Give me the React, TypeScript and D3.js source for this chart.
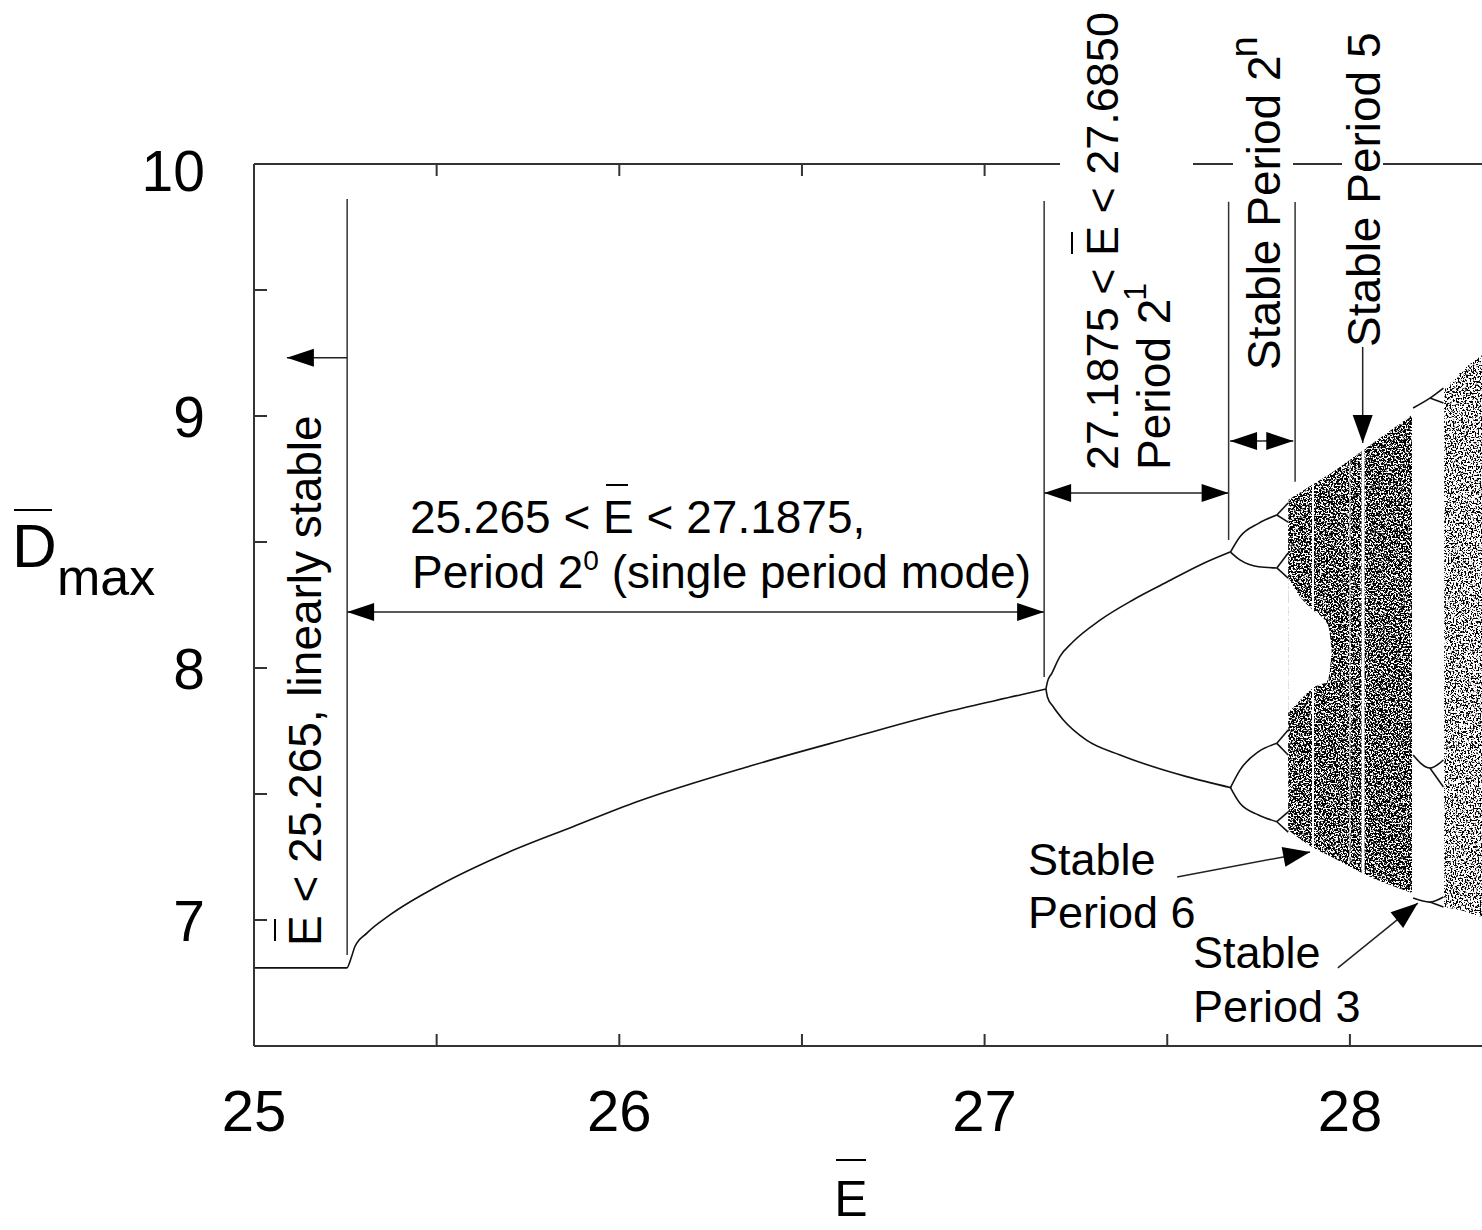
import React from 'react';
import * as d3 from 'd3';

// period 1 branch (single period mode, incl. the flat linearly stable part)
const p1E = [25.0, 25.254, 25.267, 25.276, 25.309, 25.372, 25.5, 25.692, 25.873, 26.048, 26.358, 26.632, 26.905, 27.097, 27.168];
const p1D = [6.81, 6.81, 6.854, 6.894, 6.948, 7.02, 7.132, 7.266, 7.37, 7.469, 7.611, 7.722, 7.829, 7.893, 7.917];

// period 2 branches
const p2uE = [27.168, 27.172, 27.184, 27.206, 27.242, 27.316, 27.406, 27.499, 27.59, 27.672];
const p2uD = [7.917, 7.945, 7.979, 8.045, 8.104, 8.19, 8.27, 8.341, 8.409, 8.46];
const p2lE = [27.168, 27.172, 27.188, 27.215, 27.279, 27.371, 27.462, 27.553, 27.675];
const p2lD = [7.917, 7.885, 7.846, 7.795, 7.714, 7.655, 7.608, 7.569, 7.525];

// period 4 branches
const p4E = [27.673, 27.699, 27.75, 27.8];
const p4uuD = [8.46, 8.521, 8.574, 8.607];
const p4ulD = [8.46, 8.429, 8.402, 8.397];
const p4luD = [7.525, 7.595, 7.668, 7.701];
const p4llD = [7.525, 7.463, 7.417, 7.39];

// period 8 forks (start at end of period 4)
const p8E = [27.8, 27.831];
const p8Start = [8.607, 8.397, 7.701, 7.39];
const p8Up = [8.655, 8.456, 7.754, 7.429];
const p8Dn = [8.579, 8.357, 7.655, 7.349];

// chaotic band before the period 3 window
const chaos1E = [27.831, 27.896, 27.945, 28.033, 28.17];
const chaos1Top = [8.667, 8.726, 8.77, 8.861, 9.004];
const chaos1Bot = [7.357, 7.29, 7.254, 7.187, 7.107];

// empty wedge inside the first band
const wedgeE = [27.831, 27.864, 27.899, 27.94, 27.95];
const wedgeTop = [8.361, 8.282, 8.23, 8.171, 8.071];
const wedgeBot = [7.821, 7.873, 7.921, 7.952, 8.063];

// narrow periodic windows (white gaps)
const gapE = [27.899, 28.0, 28.036];
const gapW = [2, 1, 3];

// period 3 window branches
const p3E = [28.173, 28.219, 28.256];
const p3TopD = [9.032, 9.071, 9.111];
const p3TopDn = [9.071, 9.052];
const p3MidD = [7.655, 7.603, 7.635];
const p3MidDn = [7.603, 7.528];
const p3BotD = [7.087, 7.071, 7.091];
const p3BotDn = [7.071, 7.052];

// chaotic band after the period 3 window
const chaos2E = [28.258, 28.3, 28.362, 28.4];
const chaos2Top = [9.103, 9.17, 9.242, 9.282];
const chaos2Bot = [7.052, 7.04, 7.012, 7.0];

const xTicks = [25.5, 26, 26.5, 27, 27.5, 28, 28.5];
const yTicks = [7, 7.5, 8, 8.5, 9, 9.5];
const xLabels = [25, 26, 27, 28];
const yLabels = [7, 8, 9, 10];

const W = 1482;
const H = 1230;
const FONT = 'Liberation Sans, Arial, Helvetica, sans-serif';

const x = d3.scaleLinear().domain([25, 29]).range([254, 254 + 4 * 365.3]);
const y = d3.scaleLinear().domain([6.5, 10]).range([1046, 164]);

const zip = (es: number[], ds: number[]) => es.map((e, i) => [e, ds[i]] as [number, number]);

const line = d3
  .line<[number, number]>()
  .x((d) => x(d[0]))
  .y((d) => y(d[1]))
  .curve(d3.curveMonotoneX);

const area = d3
  .area<[number, number, number]>()
  .x((d) => x(d[0]))
  .y0((d) => y(d[1]))
  .y1((d) => y(d[2]))
  .curve(d3.curveMonotoneX);

const band = (es: number[], bot: number[], top: number[]) =>
  es.map((e, i) => [e, bot[i], top[i]] as [number, number, number]);

// arrowhead polygon with tip at (tx,ty) pointing away from (fx,fy)
const head = (fx: number, fy: number, tx: number, ty: number, len = 27, half = 9) => {
  const a = Math.atan2(ty - fy, tx - fx);
  const bx = tx - len * Math.cos(a);
  const by = ty - len * Math.sin(a);
  const px = -Math.sin(a) * half;
  const py = Math.cos(a) * half;
  return `${tx},${ty} ${bx + px},${by + py} ${bx - px},${by - py}`;
};

const Arrow = ({ x1, y1, x2, y2, both = false, len = 27, half = 9 }: any) => (
  <g>
    <line x1={x1} y1={y1} x2={x2} y2={y2} stroke="#222" strokeWidth={1.5} />
    <polygon points={head(x1, y1, x2, y2, len, half)} fill="#000" />
    {both && <polygon points={head(x2, y2, x1, y1, len, half)} fill="#000" />}
  </g>
);

const App = () => {
  const branches: [number, number][][] = [
    zip(p1E, p1D),
    zip(p2uE, p2uD),
    zip(p2lE, p2lD),
    zip(p4E, p4uuD),
    zip(p4E, p4ulD),
    zip(p4E, p4luD),
    zip(p4E, p4llD),
    ...p8Start.flatMap((s, i) => [zip(p8E, [s, p8Up[i]]), zip(p8E, [s, p8Dn[i]])]),
    zip(p3E, p3TopD),
    zip(p3E.slice(1), p3TopDn),
    zip(p3E, p3MidD),
    zip(p3E.slice(1), p3MidDn),
    zip(p3E, p3BotD),
    zip(p3E.slice(1), p3BotDn),
  ];

  const vline = (e: number, d0: number, d1: number) => (
    <line x1={x(e)} x2={x(e)} y1={y(d0)} y2={y(d1)} stroke="#333" strokeWidth={1.5} />
  );

  return (
    <svg width={W} height={H} style={{ display: 'block', background: '#fff' }} fontFamily={FONT}>
      <style>{'body{margin:0}'}</style>
      <defs>
        <filter id="stipDense" x="0%" y="0%" width="100%" height="100%" colorInterpolationFilters="sRGB">
          <feTurbulence type="fractalNoise" baseFrequency="0.6" numOctaves={2} seed={7} result="n" />
          <feColorMatrix in="n" type="matrix" values="0 0 0 0 0  0 0 0 0 0  0 0 0 0 0  12 0 0 0 -5.2" result="d" />
          <feComposite in="d" in2="SourceGraphic" operator="in" />
        </filter>
        <filter id="stipLight" x="0%" y="0%" width="100%" height="100%" colorInterpolationFilters="sRGB">
          <feTurbulence type="fractalNoise" baseFrequency="0.6" numOctaves={2} seed={3} result="n" />
          <feColorMatrix in="n" type="matrix" values="0 0 0 0 0  0 0 0 0 0  0 0 0 0 0  12 0 0 0 -6.0" result="d" />
          <feComposite in="d" in2="SourceGraphic" operator="in" />
        </filter>
      </defs>

      {/* chaotic regions */}
      <path d={area(band(chaos1E, chaos1Bot, chaos1Top)) || ''} fill="#000" filter="url(#stipDense)" />
      <path d={area(band(chaos2E, chaos2Bot, chaos2Top)) || ''} fill="#000" filter="url(#stipLight)" />
      <path d={area(band(wedgeE, wedgeBot, wedgeTop)) || ''} fill="#fff" />
      {gapE.map((e, i) => {
        const j = d3.bisectLeft(chaos1E, e);
        const t = chaos1Top[Math.min(j, chaos1Top.length - 1)];
        const b = chaos1Bot[Math.max(j - 1, 0)];
        return <line key={i} x1={x(e)} x2={x(e)} y1={y(t) - 6} y2={y(b) + 6} stroke="#fff" strokeWidth={gapW[i]} />;
      })}

      {/* branches */}
      {branches.map((b, i) => (
        <path key={i} d={line(b) || ''} fill="none" stroke="#111" strokeWidth={1.6} />
      ))}

      {/* frame */}
      <line x1={254} x2={254} y1={164} y2={1046} stroke="#333" strokeWidth={2} />
      <line x1={254} x2={W} y1={1046} y2={1046} stroke="#333" strokeWidth={2} />
      <line x1={254} x2={W} y1={164} y2={164} stroke="#333" strokeWidth={2} />
      {xTicks.map((t) => (
        <g key={t}>
          <line x1={x(t)} x2={x(t)} y1={1046} y2={1034} stroke="#333" strokeWidth={2} />
          <line x1={x(t)} x2={x(t)} y1={164} y2={176} stroke="#333" strokeWidth={2} />
        </g>
      ))}
      {yTicks.map((t) => (
        <line key={t} x1={254} x2={267} y1={y(t)} y2={y(t)} stroke="#333" strokeWidth={2} />
      ))}
      {yLabels.map((t) => (
        <text key={t} x={205} y={y(t) + (t === 10 ? 27 : 21)} fontSize={57} textAnchor="end">{t}</text>
      ))}
      {xLabels.map((t) => (
        <text key={t} x={x(t)} y={1131} fontSize={58} textAnchor="middle">{t}</text>
      ))}

      {/* axis titles */}
      <text x={851} y={1216} fontSize={50} textAnchor="middle">E</text>
      <line x1={836} x2={866} y1={1160} y2={1160} stroke="#000" strokeWidth={2} />
      <text x={12} y={567} fontSize={62}>D</text>
      <line x1={14} x2={52} y1={510} y2={510} stroke="#000" strokeWidth={2} />
      <text x={57} y={595} fontSize={52}>max</text>

      {/* annotation lines and arrows */}
      {vline(25.255, 9.861, 6.861)}
      <Arrow x1={x(25.255)} y1={y(9.231)} x2={x(25.09)} y2={y(9.231)} />
      <Arrow x1={x(25.255)} y1={y(8.222)} x2={x(27.163)} y2={y(8.222)} both />
      {vline(27.163, 9.853, 7.964)}
      <Arrow x1={x(27.163)} y1={y(8.694)} x2={x(27.668)} y2={y(8.694)} both />
      {vline(27.668, 9.85, 8.508)}
      {vline(27.85, 9.849, 8.739)}
      <Arrow x1={x(27.76)} y1={y(8.901)} x2={x(27.672)} y2={y(8.901)} />
      <Arrow x1={x(27.76)} y1={y(8.901)} x2={x(27.845)} y2={y(8.901)} />
      <Arrow x1={x(28.035)} y1={y(9.274)} x2={x(28.035)} y2={y(8.893)} len={28} half={10} />
      <Arrow x1={x(27.527)} y1={y(7.171)} x2={x(27.891)} y2={y(7.27)} half={10} />
      <Arrow x1={x(27.967)} y1={y(6.81)} x2={x(28.186)} y2={y(7.067)} half={10} />

      {/* white backing where vertical labels cross the top frame */}
      <rect x={1060} y={154} width={133} height={22} fill="#fff" />
      <rect x={1233} y={154} width={60} height={22} fill="#fff" />
      <rect x={1342} y={154} width={41} height={22} fill="#fff" />

      {/* labels */}
      <g transform="translate(321,946) rotate(-90)">
        <text x={0} y={0} fontSize={46}>E &lt; 25.265, linearly stable</text>
        <line x1={5} x2={27} y1={-46} y2={-46} stroke="#000" strokeWidth={2} />
      </g>

      <text x={410} y={533} fontSize={46}>25.265 &lt; E &lt; 27.1875,</text>
      <line x1={606} x2={628} y1={485} y2={485} stroke="#000" strokeWidth={2} />
      <text x={412} y={588} fontSize={46}>
        Period 2<tspan fontSize={28} dy={-18}>0</tspan>
        <tspan dy={18}> (single period mode)</tspan>
      </text>

      <g transform="translate(1118,470) rotate(-90)">
        <text x={0} y={0} fontSize={45}>27.1875 &lt; E &lt; 27.6850</text>
        <line x1={216} x2={238} y1={-46} y2={-46} stroke="#000" strokeWidth={2} />
      </g>
      <g transform="translate(1170,470) rotate(-90)">
        <text x={0} y={0} fontSize={46}>
          Period 2<tspan fontSize={32} dy={-24} dx={-2}>1</tspan>
        </text>
      </g>
      <g transform="translate(1280,370) rotate(-90)">
        <text x={0} y={0} fontSize={46}>
          Stable Period 2<tspan fontSize={38} dy={-23} dx={-2}>n</tspan>
        </text>
      </g>
      <g transform="translate(1380,347) rotate(-90)">
        <text x={0} y={0} fontSize={46}>Stable Period 5</text>
      </g>

      <text x={1028} y={875} fontSize={45}>Stable</text>
      <text x={1028} y={928} fontSize={45}>Period 6</text>
      <text x={1193} y={968} fontSize={45}>Stable</text>
      <text x={1193} y={1022} fontSize={45}>Period 3</text>
    </svg>
  );
};

export default App;
